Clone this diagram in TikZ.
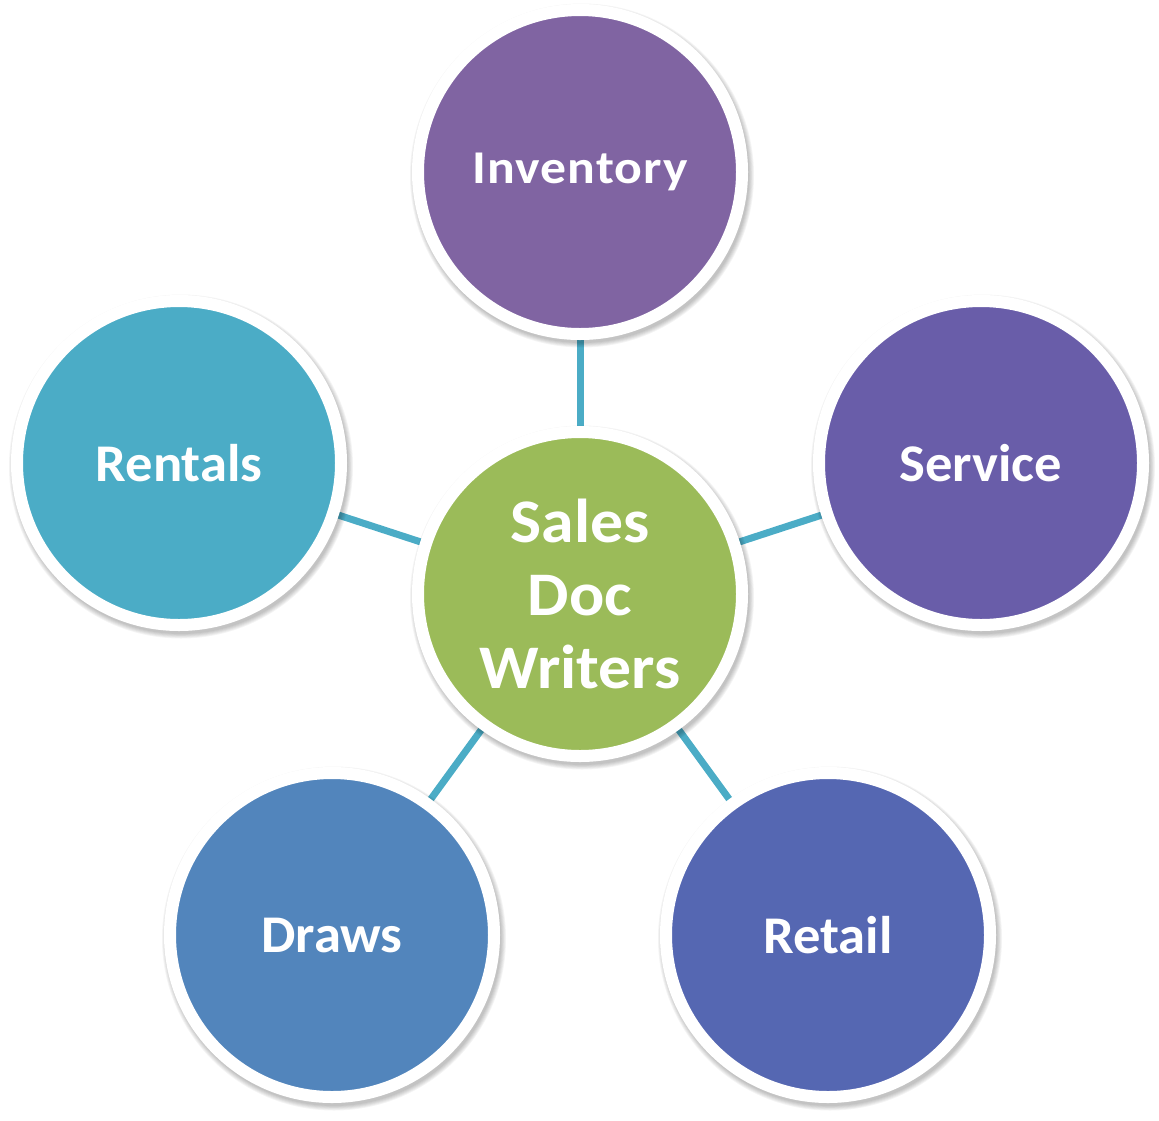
\documentclass[tikz,border=0pt]{standalone}
\usepackage{fontspec}
\setmainfont{Carlito}
\usetikzlibrary{calc}
\definecolor{cInv}{HTML}{8064A2}
\definecolor{cSrv}{HTML}{695DA9}
\definecolor{cRen}{HTML}{4BACC6}
\definecolor{cDra}{HTML}{5285BC}
\definecolor{cRet}{HTML}{5567B2}
\definecolor{cCen}{HTML}{9BBB59}
\definecolor{cLink}{HTML}{4BACC6}
\tikzset{
  bubble/.style={circle, inner sep=0pt, outer sep=0pt, minimum size=324pt,
    draw=white, line width=12pt, text=white, align=center,
    font=\bfseries\fontsize{53}{64}\selectfont\addfontfeature{FakeStretch=1.03}},
  smalllabel/.style={font=\bfseries\fontsize{47}{56}\selectfont\addfontfeature{FakeStretch=1.1,LetterSpace=2.5}},
  hub/.style={bubble, font=\bfseries\fontsize{62}{73}\selectfont\addfontfeature{FakeStretch=1.06}},
  link/.style={draw=cLink, line width=7pt},
}
\begin{document}
\begin{tikzpicture}[x=1pt,y=-1pt]
\useasboundingbox (0,0) rectangle (1159,1120);
\coordinate (pC) at (580,594);
\coordinate (pI) at (580,172);
\coordinate (pS) at (981,463);
\coordinate (pR) at (179,463);
\coordinate (pD) at (332,935);
\coordinate (pT) at (828,935);
% connectors
\foreach \p in {pI,pS,pR,pD,pT}{
  \draw[link] (pC) -- (\p);
}
% soft shadows
\foreach \p in {pC,pI,pS,pR,pD,pT}{
  \foreach \k in {0,1,2,3,4,5}{
    \fill[black, opacity=0.045] ($(\p)+(2,3.5)$) circle ({167.5+\k*0.9});
  }
}
\node[bubble, smalllabel, fill=cInv] (inv) at (pI) {Inventory};
\node[bubble, fill=cSrv] (srv) at (pS) {Service};
\node[bubble, fill=cRen] (ren) at (pR) {Rentals};
\node[bubble, fill=cDra] (dra) at (pD) {Draws};
\node[bubble, fill=cRet] (ret) at (pT) {Retail};
\node[hub, fill=cCen] (cen) at (pC) {Sales\\Doc\\Writers};
\end{tikzpicture}
\end{document}
